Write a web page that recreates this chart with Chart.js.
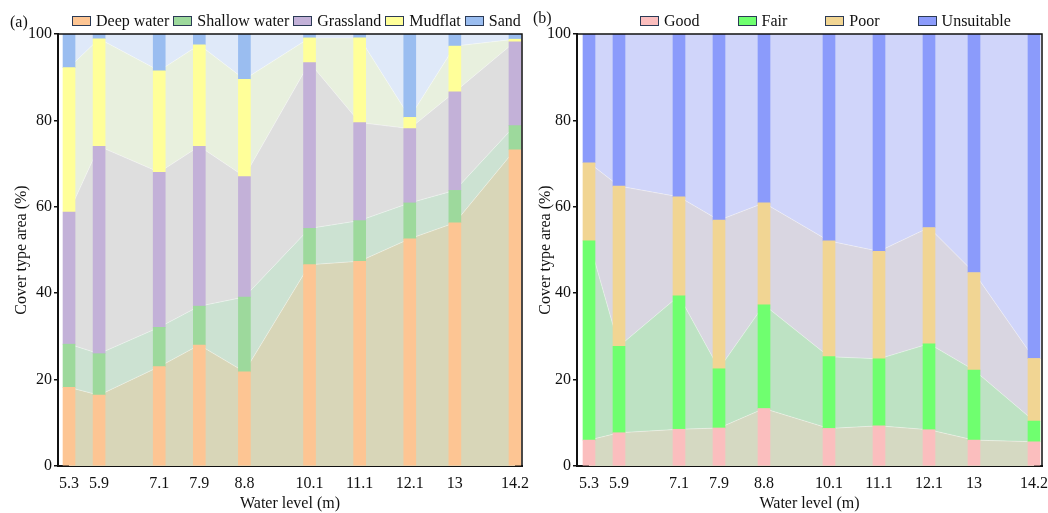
<!DOCTYPE html>
<html lang="en">
<head>
<meta charset="UTF-8">
<title>Cover type area vs water level</title>
<script src="https://cdn.jsdelivr.net/npm/chart.js@4.4.1/dist/chart.umd.min.js"></script>
<style>
    body { margin: 0; background: #fff; font-family: "Liberation Serif", "Times New Roman", serif; }
    #wrap { position: relative; width: 1048px; height: 513px; overflow: hidden; }
    canvas { position: absolute; top: 0; }
    .tag { position: absolute; font-size: 16px; color: #111; }
    .legend { position: absolute; top: 10px; height: 22px; display: flex; align-items: center; font-size: 16px; color: #111; }
    .legend .item { display: flex; align-items: center; }
    .legend .box { width: 17px; height: 8px; border: 1.5px solid #2b3a55; margin-right: 5px; }
</style>
</head>
<body>
<div id="wrap">
    <canvas id="chartB" width="524" height="513" style="left:524px"></canvas>
    <canvas id="chartA" width="540" height="513" style="left:0"></canvas>
    <div class="tag" style="left:10px; top:13px">(a)</div>
    <div class="tag" style="left:533px; top:9px">(b)</div>
    <div class="legend" id="legendA" style="left:72px; gap:4px"></div>
    <div class="legend" id="legendB" style="left:640px; gap:38px"></div>
</div>
<script>
// water levels (x positions) and their tick labels
const levels = [5.3, 5.9, 7.1, 7.9, 8.8, 10.1, 11.1, 12.1, 13, 14.2];
const levelLabels = ['5.3', '5.9', '7.1', '7.9', '8.8', '10.1', '11.1', '12.1', '13', '14.2'];
const yTicks = [0, 20, 40, 60, 80, 100];

// (a) cover types, % of area
const coverNames = ['Deep water', 'Shallow water', 'Grassland', 'Mudflat', 'Sand'];
const deepWater = [18.2, 16.4, 23.0, 28.0, 21.8, 46.6, 47.4, 52.6, 56.3, 73.2];
const shallowWater = [10.0, 9.6, 9.1, 9.0, 17.3, 8.4, 9.4, 8.3, 7.5, 5.6];
const grassland = [30.6, 48.0, 35.9, 37.0, 27.9, 38.4, 22.7, 17.2, 22.8, 19.4];
const mudflat = [33.4, 24.9, 23.5, 23.5, 22.5, 5.7, 19.6, 2.6, 10.6, 0.6];
const sand = [7.8, 1.1, 8.5, 2.5, 10.5, 0.9, 0.9, 19.3, 2.8, 1.2];

// (b) habitat suitability, % of area
const suitNames = ['Good', 'Fair', 'Poor', 'Unsuitable'];
const good = [6.0, 7.7, 8.5, 8.8, 13.3, 8.7, 9.3, 8.4, 6.0, 5.6];
const fair = [46.1, 20.0, 30.9, 13.7, 24.0, 16.6, 15.5, 19.9, 16.2, 4.8];
const poor = [18.1, 37.1, 22.9, 34.4, 23.6, 26.8, 24.9, 26.9, 22.6, 14.5];
const unsuitable = [29.8, 35.2, 37.7, 43.1, 39.1, 47.9, 50.3, 44.8, 55.2, 75.1];

const coverBar = ['#fdc593', '#9dd99c', '#c3b1d8', '#ffff99', '#9abdf0'];
const coverArea = ['#d8d6b8', '#cce2d2', '#dedede', '#e8f0de', '#dfe9f9'];
const suitBar = ['#fbbebe', '#6fff6f', '#f1d593', '#8b9bfb'];
const suitArea = ['#d5d9c2', '#bde2c3', '#d9d6e1', '#d0d5fa'];

const FONT = "'Liberation Serif', 'Times New Roman', serif";

// draw the top and right sides of the plot frame
const frame = {
    id: 'frame',
    afterDraw(chart) {
        const a = chart.chartArea, ctx = chart.ctx;
        ctx.save();
        ctx.strokeStyle = '#111';
        ctx.lineWidth = 1.5;
        ctx.beginPath();
        ctx.moveTo(a.left, a.top);
        ctx.lineTo(a.right, a.top);
        ctx.lineTo(a.right, a.bottom);
        ctx.stroke();
        ctx.restore();
    }
};

function buildLegend(el, names, colors) {
    names.forEach((n, i) => {
        const item = document.createElement('div');
        item.className = 'item';
        item.innerHTML = '<span class="box" style="background:' + colors[i] + '"></span><span>' + n + '</span>';
        el.appendChild(item);
    });
}

function makeChart(id, names, series, barColors, areaColors, xMin, xMax, yWidth, padRight) {
    const datasets = [];
    series.forEach((s, i) => {
        datasets.push({
            type: 'bar',
            label: names[i],
            data: levels.map((x, j) => ({ x: x, y: s[j] })),
            backgroundColor: barColors[i],
            borderWidth: 0,
            barThickness: 12,
            order: 0
        });
    });
    // shaded bands joining the bar segments
    series.forEach((s, i) => {
        datasets.push({
            type: 'line',
            label: names[i] + ' band',
            data: levels.map((x, j) => ({ x: x, y: s[j] })),
            backgroundColor: areaColors[i],
            borderColor: 'rgba(255,255,255,0.35)',
            borderWidth: 1,
            pointRadius: 0,
            tension: 0,
            fill: i === 0 ? 'origin' : '-1',
            order: 1
        });
    });

    return new Chart(document.getElementById(id), {
        type: 'bar',
        data: { datasets: datasets },
        plugins: [frame],
        options: {
            responsive: false,
            animation: false,
            layout: { padding: { top: 34, right: padRight, bottom: 0, left: 0 } },
            plugins: { legend: { display: false }, tooltip: { enabled: false } },
            scales: {
                x: {
                    type: 'linear',
                    stacked: true,
                    offset: false,
                    min: xMin,
                    max: xMax,
                    afterBuildTicks: (scale) => { scale.ticks = levels.map(v => ({ value: v })); },
                    afterFit: (scale) => { scale.height = 47; scale.paddingLeft = 0; scale.paddingRight = 0; },
                    grid: { display: false },
                    border: { display: true, color: '#111', width: 2 },
                    ticks: {
                        autoSkip: false,
                        maxRotation: 0,
                        padding: 0,
                        color: '#111',
                        font: { family: FONT, size: 16 },
                        callback: (v, i) => levelLabels[i]
                    },
                    title: {
                        display: true,
                        text: 'Water level (m)',
                        color: '#111',
                        font: { family: FONT, size: 16 },
                        padding: { top: 0, bottom: 0 }
                    }
                },
                y: {
                    stacked: true,
                    min: 0,
                    max: 100,
                    afterBuildTicks: (scale) => { scale.ticks = yTicks.map(v => ({ value: v })); },
                    afterFit: (scale) => { scale.width = yWidth; scale.paddingTop = 0; scale.paddingBottom = 0; },
                    grid: { drawOnChartArea: false, drawTicks: true, tickLength: 4, color: '#111', lineWidth: 1.5 },
                    border: { display: true, color: '#111', width: 2 },
                    ticks: { padding: 2, color: '#111', font: { family: FONT, size: 16 } },
                    title: {
                        display: true,
                        text: 'Cover type area (%)',
                        color: '#111',
                        font: { family: FONT, size: 16 },
                        padding: { top: 12, bottom: 0 }
                    }
                }
            }
        }
    });
}

buildLegend(document.getElementById('legendA'), coverNames, coverBar);
buildLegend(document.getElementById('legendB'), suitNames, suitBar);

makeChart('chartA', coverNames, [deepWater, shallowWater, grassland, mudflat, sand],
    coverBar, coverArea, 5.08, 14.34, 58, 18);
makeChart('chartB', suitNames, [good, fair, poor, unsuitable],
    suitBar, suitArea, 5.06, 14.36, 53, 6);
</script>
</body>
</html>
